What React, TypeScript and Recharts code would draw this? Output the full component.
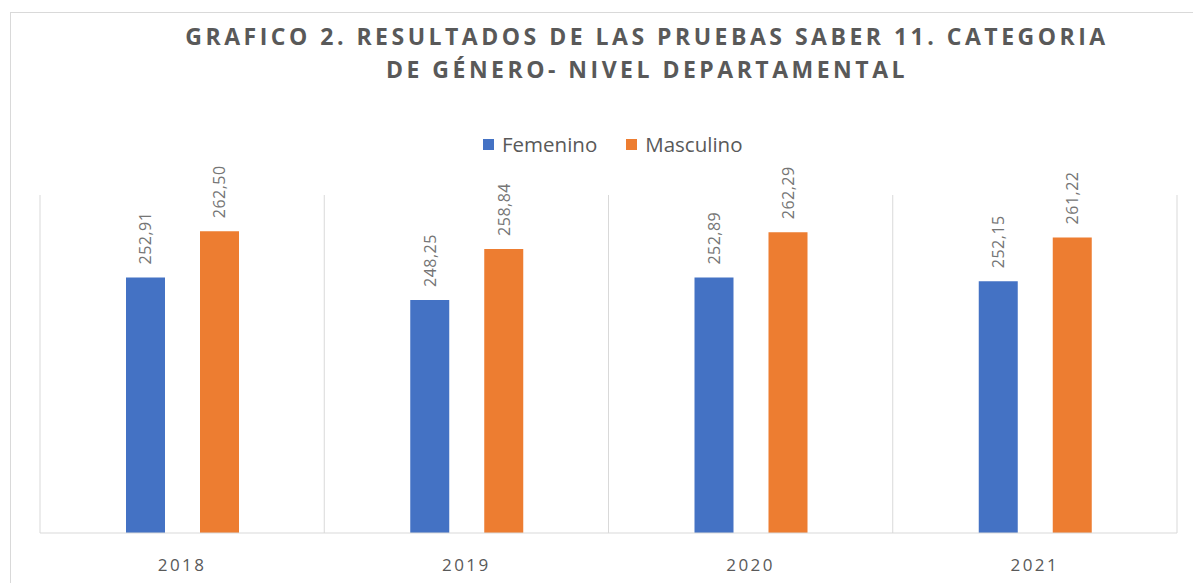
import { BarChart, Bar, XAxis, YAxis, CartesianGrid, Legend, LabelList } from 'recharts'

const years = ['2018', '2019', '2020', '2021']
const femenino = [252.91, 248.25, 252.89, 252.15]
const masculino = [262.5, 258.84, 262.29, 261.22]

const seriesNames = { femenino: 'Femenino', masculino: 'Masculino' }
const colors = { femenino: '#4472C4', masculino: '#ED7D31' }

const data = years.map((year, i) => ({
  year,
  femenino: femenino[i],
  masculino: masculino[i],
}))

const font = '"Open Sans", sans-serif'

function ValueLabel(props: any) {
  const { x, y, width, value } = props
  const cx = x + width / 2
  const ty = y - 13
  return (
    <text
      x={cx}
      y={ty}
      transform={`rotate(-90 ${cx} ${ty})`}
      textAnchor="start"
      dominantBaseline="central"
      fontSize={16}
      fontFamily={font}
      fill="#757575"
      letterSpacing={0.5}
    >
      {Number(value).toFixed(2).replace('.', ',')}
    </text>
  )
}

function LegendContent(props: any) {
  const { payload } = props
  return (
    <div style={{ display: 'flex', alignItems: 'center', fontFamily: font, fontSize: 20.5, color: '#595959' }}>
      {payload.map((p: any) => (
        <div key={p.value} style={{ display: 'flex', alignItems: 'center', marginRight: 29 }}>
          <span style={{ width: 11, height: 11, background: p.color, marginRight: 8, display: 'inline-block' }} />
          {p.value}
        </div>
      ))}
    </div>
  )
}

export default function App() {
  return (
    <div style={{ position: 'absolute', left: 0, top: 0, width: 1193, height: 583, background: '#fff', overflow: 'hidden' }}>
      <div style={{ position: 'absolute', left: 10, top: 12, width: 1200, height: 600, borderLeft: '1px solid #d9d9d9', borderTop: '1px solid #d9d9d9' }} />
      <div
        style={{
          position: 'absolute',
          left: 97,
          width: 1100,
          top: 20,
          textAlign: 'center',
          fontFamily: font,
          fontWeight: 700,
          fontSize: 23,
          letterSpacing: 3.5,
          lineHeight: '33px',
          color: '#595959',
        }}
      >
        GRAFICO 2. RESULTADOS DE LAS PRUEBAS SABER 11. CATEGORIA
        <br />
        DE GÉNERO- NIVEL DEPARTAMENTAL
      </div>
      <BarChart
        width={1193}
        height={583}
        data={data}
        margin={{ top: 195, right: 16, bottom: 20, left: 40 }}
        barSize={39}
        barGap={35}
        style={{ position: 'absolute', left: 0, top: 0 }}
      >
        <CartesianGrid
          horizontal={false}
          stroke="#d9d9d9"
          verticalCoordinatesGenerator={({ offset }: any) =>
            years.map((_, i) => offset.left + (i * offset.width) / years.length).concat(offset.left + offset.width)
          }
        />
        <XAxis
          dataKey="year"
          height={30}
          tickLine={false}
          axisLine={{ stroke: '#d9d9d9' }}
          tick={{ fill: '#595959', fontSize: 17, fontFamily: font, letterSpacing: 2.5 }}
          tickMargin={20}
        />
        <YAxis hide domain={[200, 270]} />
        <Legend
          verticalAlign="middle"
          align="center"
          layout="horizontal"
          wrapperStyle={{ top: 130, left: 483, width: 340 }}
          content={<LegendContent />}
        />
        <Bar dataKey="femenino" name={seriesNames.femenino} fill={colors.femenino} isAnimationActive={false}>
          <LabelList dataKey="femenino" content={<ValueLabel />} />
        </Bar>
        <Bar dataKey="masculino" name={seriesNames.masculino} fill={colors.masculino} isAnimationActive={false}>
          <LabelList dataKey="masculino" content={<ValueLabel />} />
        </Bar>
      </BarChart>
    </div>
  )
}
